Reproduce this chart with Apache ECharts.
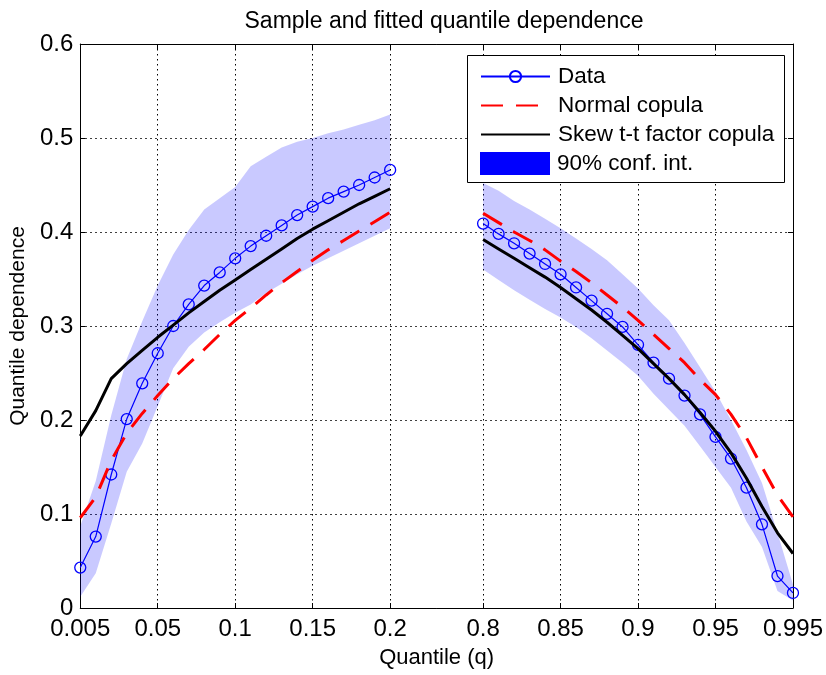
<!DOCTYPE html>
<html><head><meta charset="utf-8">
<script src="https://cdn.jsdelivr.net/npm/echarts@6/dist/echarts.min.js"></script>
<style>html,body{margin:0;padding:0;background:#fff}#c{width:826px;height:675px}</style>
</head><body><div id="c"></div>
<script>
// ---------------- data ----------------
const qLeft  = [0.005,0.01,0.02,0.03,0.04,0.05,0.06,0.07,0.08,0.09,0.10,0.11,0.12,0.13,0.14,0.15,0.16,0.17,0.18,0.19,0.20];
const qRight = [0.80,0.81,0.82,0.83,0.84,0.85,0.86,0.87,0.88,0.89,0.90,0.91,0.92,0.93,0.94,0.95,0.96,0.97,0.98,0.99,0.995];

const dataLeft  = [0.043,0.076,0.142,0.201,0.239,0.271,0.300,0.323,0.343,0.357,0.372,0.385,0.396,0.407,0.418,0.427,0.436,0.443,0.450,0.458,0.466];
const dataRight = [0.409,0.398,0.388,0.377,0.366,0.355,0.341,0.327,0.313,0.299,0.280,0.261,0.244,0.226,0.206,0.182,0.159,0.128,0.089,0.034,0.016];

const normalLeft  = [0.096,0.118,0.157,0.186,0.207,0.226,0.244,0.260,0.275,0.291,0.306,0.319,0.333,0.346,0.358,0.370,0.381,0.391,0.401,0.411,0.421];
const normalRight = [0.420,0.410,0.400,0.391,0.381,0.369,0.358,0.346,0.333,0.320,0.306,0.291,0.276,0.261,0.243,0.227,0.206,0.181,0.150,0.120,0.097];

const skewLeft  = [0.183,0.210,0.244,0.260,0.274,0.288,0.301,0.314,0.326,0.338,0.349,0.360,0.371,0.382,0.393,0.403,0.412,0.421,0.430,0.438,0.446];
const skewRight = [0.392,0.382,0.372,0.362,0.352,0.341,0.329,0.317,0.304,0.290,0.276,0.260,0.244,0.227,0.208,0.188,0.165,0.138,0.108,0.080,0.058];

const ciUpLeft   = [0.087,0.135,0.205,0.265,0.305,0.343,0.376,0.402,0.424,0.436,0.448,0.470,0.480,0.490,0.496,0.500,0.505,0.509,0.514,0.519,0.525];
const ciLowLeft  = [0.012,0.037,0.090,0.145,0.175,0.215,0.255,0.278,0.293,0.304,0.314,0.323,0.335,0.345,0.355,0.364,0.372,0.380,0.388,0.396,0.404];
const ciUpRight  = [0.452,0.444,0.433,0.424,0.414,0.404,0.393,0.382,0.370,0.355,0.340,0.322,0.306,0.282,0.256,0.230,0.200,0.168,0.133,0.080,0.025];
const ciLowRight = [0.360,0.349,0.338,0.328,0.318,0.309,0.299,0.287,0.274,0.261,0.247,0.228,0.211,0.194,0.172,0.150,0.128,0.092,0.065,0.018,0.008];

const xTickLabels = ['0.005','0.05','0.1','0.15','0.2','0.8','0.85','0.9','0.95','0.995'];
const yTickValues = [0,0.1,0.2,0.3,0.4,0.5,0.6];

// ---------------- broken quantile axis ----------------
// the two tails are drawn side by side; the extreme quantiles sit on the axis ends
const GAP_FROM = 0.2, GAP_TO = 0.8, GAP_WIDTH = 0.06;
function axisPos(q){
  if (q <= 0.005) q = 0;
  if (q >= 0.995) q = 1;
  return q < 0.5 ? q : q - (GAP_TO - GAP_FROM) + GAP_WIDTH;
}
const xTickPos = xTickLabels.map(s => axisPos(parseFloat(s)));
const xMin = axisPos(0.005), xMax = axisPos(0.995);
function xLabel(v){
  for (let i = 0; i < xTickPos.length; i++) if (Math.abs(xTickPos[i]-v) < 1e-6) return xTickLabels[i];
  return '';
}
const pairs = (qs, vs) => qs.map((q,i) => [axisPos(q), vs[i]]);

const FONT = '"Liberation Sans", Arial, Helvetica, sans-serif';
const BAND = 'rgba(0,0,255,0.21)';

function bandSeries(qs, lo, up){
  return {
    type:'custom', name:'90% conf. int.', z:1, silent:true,
    xAxisIndex:0, yAxisIndex:0,
    data: qs.map((q,i) => [axisPos(q), lo[i], up[i]]),
    encode:{x:0, y:[1,2]},
    itemStyle:{color:BAND},
    renderItem: function(params, api){
      if (params.dataIndex !== 0) return;
      const pts = [];
      for (let i = 0; i < qs.length; i++) pts.push(api.coord([axisPos(qs[i]), up[i]]));
      for (let i = qs.length-1; i >= 0; i--) pts.push(api.coord([axisPos(qs[i]), lo[i]]));
      return {type:'polygon', shape:{points:pts}, style:{fill:BAND}};
    }
  };
}
function dataSeries(qs, vs){
  return {
    type:'line', name:'Data', z:3, data:pairs(qs, vs),
    symbol:'circle', symbolSize:11, showSymbol:true,
    lineStyle:{color:'#0000ff', width:1.2},
    itemStyle:{color:'rgba(0,0,0,0)', borderColor:'#0000ff', borderWidth:1.3},
    emphasis:{disabled:true}
  };
}
function fitSeries(name, qs, vs, color, type, z){
  return {
    type:'line', name:name, z:z, data:pairs(qs, vs),
    symbol:'circle', showSymbol:false, symbolSize:0,
    lineStyle:{color:color, width:3, type:type},
    itemStyle:{color:'rgba(0,0,0,0)', borderWidth:0},
    emphasis:{disabled:true}
  };
}

const chart = echarts.init(document.getElementById('c'), null, {renderer:'canvas'});
chart.setOption({
  animation:false,
  backgroundColor:'#fff',
  textStyle:{fontFamily:FONT, color:'#000'},
  title:{
    text:'Sample and fitted quantile dependence',
    left:439, top:5, textAlign:'center',
    textStyle:{fontFamily:FONT, fontSize:23, fontWeight:'normal', color:'#000'}
  },
  grid:{left:80, right:30, top:44, bottom:67, containLabel:false},
  xAxis:[{
    type:'value', min:xMin, max:xMax, position:'bottom',
    name:'Quantile (q)', nameLocation:'middle', nameGap:39,
    nameTextStyle:{fontFamily:FONT, fontSize:22, color:'#000'},
    axisLine:{show:true, onZero:false, lineStyle:{color:'#000', width:1}},
    axisTick:{show:true, inside:true, length:5, customValues:xTickPos, lineStyle:{color:'#000'}},
    axisLabel:{show:true, customValues:xTickPos, formatter:xLabel, margin:9,
               fontFamily:FONT, fontSize:24, color:'#000', hideOverlap:false},
    splitLine:{show:true, lineStyle:{color:'#000', width:1, type:[1.5,3.5]}}
  },{
    type:'value', min:xMin, max:xMax, position:'top',
    axisLine:{show:true, onZero:false, lineStyle:{color:'#000', width:1}},
    axisTick:{show:true, inside:true, length:5, customValues:xTickPos, lineStyle:{color:'#000'}},
    axisLabel:{show:false}, splitLine:{show:false}
  }],
  yAxis:[{
    type:'value', min:0, max:0.6, interval:0.1, position:'left',
    name:'Quantile dependence', nameLocation:'middle', nameGap:47, nameRotate:90,
    nameTextStyle:{fontFamily:FONT, fontSize:21, color:'#000'},
    axisLine:{show:true, onZero:false, lineStyle:{color:'#000', width:1}},
    axisTick:{show:true, inside:true, length:5, lineStyle:{color:'#000'}},
    axisLabel:{show:true, margin:7, fontFamily:FONT, fontSize:24, color:'#000',
               formatter:v => { const i = yTickValues.findIndex(t => Math.abs(t-v) < 1e-9); return i >= 0 ? String(yTickValues[i]) : ''; }},
    splitLine:{show:true, lineStyle:{color:'#000', width:1, type:[1.5,3.5]}}
  },{
    type:'value', min:0, max:0.6, interval:0.1, position:'right',
    axisLine:{show:true, onZero:false, lineStyle:{color:'#000', width:1}},
    axisTick:{show:true, inside:true, length:5, lineStyle:{color:'#000'}},
    axisLabel:{show:false}, splitLine:{show:false}
  }],
  legend:[{
    orient:'vertical', left:480, top:65, padding:0, itemGap:6,
    itemWidth:69, itemHeight:14, selectedMode:false,
    data:['Data','Normal copula','Skew t-t factor copula'],
    textStyle:{fontFamily:FONT, fontSize:22.5, color:'#000', lineHeight:23, padding:[0,0,0,3]}
  },{
    orient:'vertical', left:480, top:152, padding:0,
    itemWidth:70, itemHeight:23, selectedMode:false,
    data:[{name:'90% conf. int.', icon:'rect'}],
    itemStyle:{color:'#0000ff', borderWidth:0, opacity:1},
    textStyle:{fontFamily:FONT, fontSize:22.5, color:'#000', lineHeight:23, padding:[0,0,0,2]}
  }],
  graphic:[{
    type:'rect', z:3, silent:true,
    shape:{x:467.5, y:55.5, width:317, height:127},
    style:{fill:'#fff', stroke:'#000', lineWidth:1}
  }],
  series:[
    bandSeries(qLeft, ciLowLeft, ciUpLeft),
    bandSeries(qRight, ciLowRight, ciUpRight),
    dataSeries(qLeft, dataLeft),
    dataSeries(qRight, dataRight),
    fitSeries('Normal copula', qLeft, normalLeft, '#ff0000', [22,13], 4),
    fitSeries('Normal copula', qRight, normalRight, '#ff0000', [22,13], 4),
    fitSeries('Skew t-t factor copula', qLeft, skewLeft, '#000000', 'solid', 5),
    fitSeries('Skew t-t factor copula', qRight, skewRight, '#000000', 'solid', 5)
  ]
});
</script>
</body></html>
